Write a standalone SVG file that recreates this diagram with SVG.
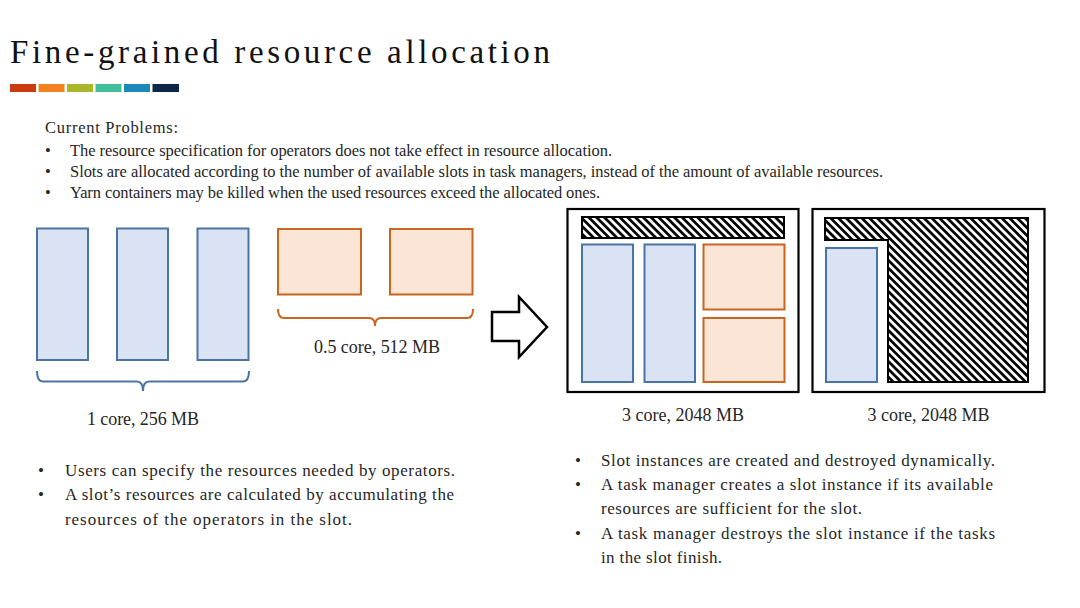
<svg xmlns="http://www.w3.org/2000/svg" width="1080" height="608" viewBox="0 0 1080 608">
<defs>
<pattern id="hatch" patternUnits="userSpaceOnUse" width="5.5" height="5.5" patternTransform="rotate(45)">
<rect width="5.5" height="5.5" fill="#ffffff"/>
<rect width="5.5" height="2.7" fill="#000000"/>
</pattern>
<style>
text{font-family:"Liberation Serif","Times New Roman",serif;fill:#262626}
.title{font-size:33px;fill:#111111}
.body{font-size:16.5px}
.big{font-size:17px}
.lbl{font-size:18px}
.blue{fill:#DAE3F3;stroke:#4A74A6;stroke-width:2}
.orange{fill:#FBE5D6;stroke:#C9651F;stroke-width:2}
.box{fill:#ffffff;stroke:#000000;stroke-width:2.2}
.hat{fill:url(#hatch);stroke:#000000;stroke-width:2}
.brb{fill:none;stroke:#4A74A6;stroke-width:2}
.bro{fill:none;stroke:#C9651F;stroke-width:2}
</style>
</defs>
<rect width="1080" height="608" fill="#ffffff"/>

<g id="header">
<text class="title" x="10" y="63" textLength="540" lengthAdjust="spacing">Fine-grained resource allocation</text>
<rect x="10" y="84" width="26" height="8" fill="#CC3A12"/>
<rect x="38.5" y="84" width="26" height="8" fill="#F58220"/>
<rect x="67" y="84" width="26" height="8" fill="#A9B728"/>
<rect x="95.5" y="84" width="26" height="8" fill="#41BF9B"/>
<rect x="124" y="84" width="26" height="8" fill="#1E89B8"/>
<rect x="152.5" y="84" width="26.5" height="8" fill="#0C2748"/>
</g>

<g id="problems">
<text class="body" x="45" y="133" textLength="133" lengthAdjust="spacing">Current Problems:</text>
<text class="body" x="45" y="156">•</text>
<text class="body" x="70" y="156" textLength="542" lengthAdjust="spacing">The resource specification for operators does not take effect in resource allocation.</text>
<text class="body" x="45" y="177">•</text>
<text class="body" x="70" y="177" textLength="813" lengthAdjust="spacing">Slots are allocated according to the number of available slots in task managers, instead of the amount of available resources.</text>
<text class="body" x="45" y="198">•</text>
<text class="body" x="70" y="198" textLength="530" lengthAdjust="spacing">Yarn containers may be killed when the used resources exceed the allocated ones.</text>
</g>

<g id="operators-1core">
<rect class="blue" x="37" y="228.5" width="51" height="131.5"/>
<rect class="blue" x="117" y="228.5" width="51" height="131.5"/>
<rect class="blue" x="197.5" y="228.5" width="51" height="131.5"/>
<text class="lbl" x="143" y="425" text-anchor="middle" textLength="112" lengthAdjust="spacing">1 core, 256 MB</text>
</g>

<g id="operators-half-core">
<rect class="orange" x="278" y="229" width="83" height="65.5"/>
<rect class="orange" x="390" y="229" width="82.5" height="65.5"/>
<text class="lbl" x="377" y="353" text-anchor="middle" textLength="126" lengthAdjust="spacing">0.5 core, 512 MB</text>
</g>

<g id="connectors">
<path class="brb" d="M37,371 Q37,381.5 43,381.5 L137,381.5 Q143,381.5 143,391 Q143,381.5 149,381.5 L243,381.5 Q249,381.5 249,371"/>
<path class="bro" d="M278,309 Q278,318 284,318 L369,318 Q375,318 375,326 Q375,318 381,318 L467,318 Q473,318 473,309"/>
<polygon points="492,312 519,312 519,297 547,327 519,357 519,341 492,341" fill="#ffffff" stroke="#000000" stroke-width="2.5" stroke-linejoin="miter"/>
</g>

<g id="taskmanager-1">
<rect class="box" x="567.5" y="209" width="231" height="183"/>
<rect class="hat" x="582" y="217" width="202" height="21"/>
<rect class="blue" x="582" y="244.5" width="51" height="137.5"/>
<rect class="blue" x="644.5" y="244.5" width="50.5" height="137.5"/>
<rect class="orange" x="703.5" y="244.5" width="81" height="65"/>
<rect class="orange" x="703.5" y="318" width="81" height="64"/>
<text class="lbl" x="683" y="421" text-anchor="middle" textLength="122" lengthAdjust="spacing">3 core, 2048 MB</text>
</g>

<g id="taskmanager-2">
<rect class="box" x="812.5" y="209" width="232" height="183"/>
<polygon class="hat" points="825,218 1028,218 1028,382 888,382 888,240 825,240"/>
<rect class="blue" x="826" y="248" width="51" height="134"/>
<text class="lbl" x="928.5" y="421" text-anchor="middle" textLength="122" lengthAdjust="spacing">3 core, 2048 MB</text>
</g>

<g id="notes-left">
<text class="big" x="38" y="476">•</text>
<text class="big" x="65" y="476" textLength="390" lengthAdjust="spacing">Users can specify the resources needed by operators.</text>
<text class="big" x="38" y="500">•</text>
<text class="big" x="65" y="500" textLength="389" lengthAdjust="spacing">A slot’s resources are calculated by accumulating the</text>
<text class="big" x="65" y="525" textLength="287" lengthAdjust="spacing">resources of the operators in the slot.</text>
</g>

<g id="notes-right">
<text class="big" x="575" y="466">•</text>
<text class="big" x="601" y="466" textLength="394" lengthAdjust="spacing">Slot instances are created and destroyed dynamically.</text>
<text class="big" x="575" y="490">•</text>
<text class="big" x="601" y="490" textLength="392" lengthAdjust="spacing">A task manager creates a slot instance if its available</text>
<text class="big" x="601" y="514" textLength="261" lengthAdjust="spacing">resources are sufficient for the slot.</text>
<text class="big" x="575" y="539">•</text>
<text class="big" x="601" y="539" textLength="394" lengthAdjust="spacing">A task manager destroys the slot instance if the tasks</text>
<text class="big" x="601" y="563" textLength="121" lengthAdjust="spacing">in the slot finish.</text>
</g>
</svg>
